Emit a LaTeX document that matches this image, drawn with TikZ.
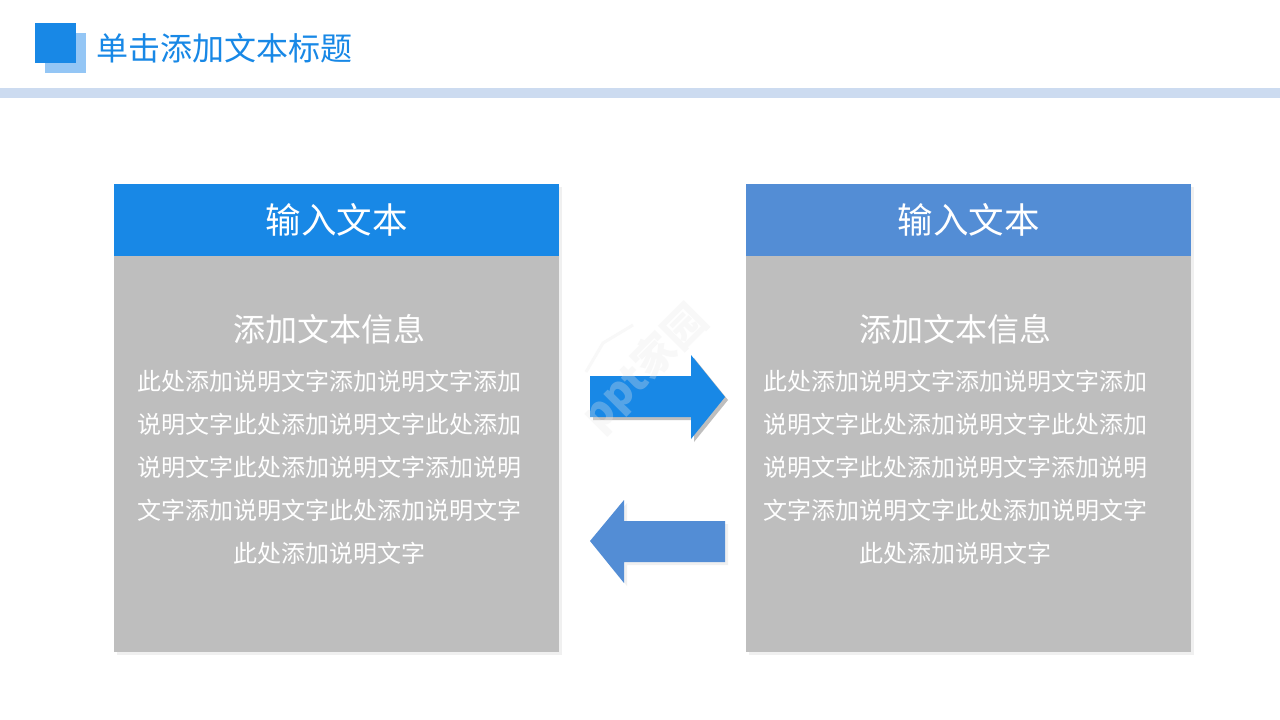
\documentclass[tikz,border=0pt]{standalone}
\usepackage{fontspec}
\setmainfont{Noto Sans CJK SC}
\usepackage{xcolor}
\usetikzlibrary{positioning}
\definecolor{mainblue}{HTML}{1888E6}
\definecolor{softblue}{HTML}{538DD5}
\definecolor{paleblue}{HTML}{94C6F5}
\definecolor{barblue}{HTML}{CCDBF0}
\definecolor{cardgrey}{HTML}{BEBEBE}
\definecolor{shadegrey}{HTML}{F0F0F0}
\definecolor{markgrey}{HTML}{E8E8E8}
\tikzset{
    headbox/.style={minimum width=445pt,minimum height=72pt,inner sep=0pt,text=white,font=\fontsize{35.5}{35.5}\selectfont},
    bodybox/.style={fill=cardgrey,minimum width=445pt,minimum height=468pt,inner sep=0pt},
    subtext/.style={text=white,font=\fontsize{32}{32}\selectfont,inner sep=0pt},
    infotext/.style={text=white,align=center,font=\fontsize{24}{43}\selectfont,inner sep=0pt,text width=384pt},
    marktext/.style={rotate=45,inner sep=0pt,text=markgrey,text opacity=0.3,font=\fontsize{42}{42}\selectfont\bfseries}
}
\begin{document}
\begin{tikzpicture}[x=1pt,y=-1pt]
    \useasboundingbox (0,0) rectangle (1280,720);
    \fill[white] (0,0) rectangle (1280,720);

    % Title bar
    \fill[paleblue] (45,33) rectangle (86,73);
    \fill[mainblue] (35,23) rectangle (76,63);
    \fill[barblue] (0,88) rectangle (1280,98);
    \node[anchor=west,inner sep=0pt,text=mainblue,font=\fontsize{32}{32}\selectfont] (title) at (96,48) {单击添加文本标题};

    % Cards
    \foreach \x/\col/\n in {114/mainblue/a,746/softblue/b} {
        \fill[shadegrey] (\x+3,187) rectangle (\x+448,655);
        \node[bodybox,anchor=north west] (body\n) at (\x,184) {};
        \node[headbox,fill=\col,anchor=north west] (head\n) at (\x,184) {输入文本};
    }

    % Texts
    \foreach \x/\n in {329/a,955/b} {
        \node[subtext] (sub\n) at (\x,329) {添加文本信息};
        \node[infotext,anchor=north] (info\n) at (\x,370) {此处添加说明文字添加说明文字添加\\说明文字此处添加说明文字此处添加\\说明文字此处添加说明文字添加说明\\文字添加说明文字此处添加说明文字\\此处添加说明文字};
    }

    % Arrows
    \fill[cardgrey,shift={(3,3)}] (590,376) -- (691,376) -- (691,355) -- (725,397) -- (691,439) -- (691,417) -- (590,417) -- cycle;
    \fill[mainblue] (590,376) -- (691,376) -- (691,355) -- (725,397) -- (691,439) -- (691,417) -- (590,417) -- cycle;
    \fill[shadegrey,shift={(3,3)}] (725,521) -- (624,521) -- (624,500) -- (590,541) -- (624,583) -- (624,562) -- (725,562) -- cycle;
    \fill[softblue] (725,521) -- (624,521) -- (624,500) -- (590,541) -- (624,583) -- (624,562) -- (725,562) -- cycle;

    % Watermark
    \node[marktext] (mark) at (645,368) {ppt家园};
    \draw[markgrey,opacity=0.3,line width=3pt] (586,372) -- (603,343) -- (633,325);
\end{tikzpicture}
\end{document}
